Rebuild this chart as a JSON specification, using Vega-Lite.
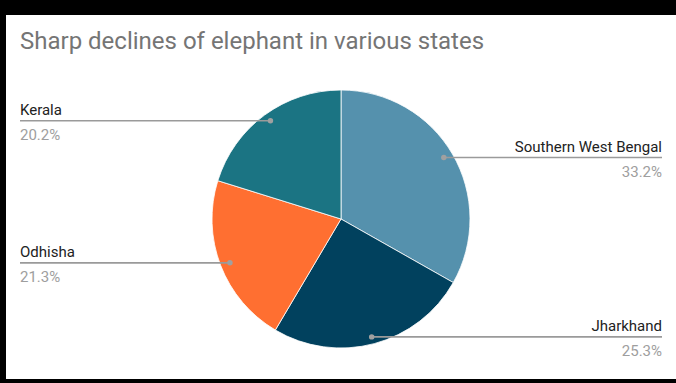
{
  "$schema": "https://vega.github.io/schema/vega-lite/v6.json",
  "autosize": "none",
  "width": 670,
  "height": 364,
  "padding": {"left": 6, "top": 15, "right": 0, "bottom": 4},
  "background": "black",
  "view": {"stroke": null, "fill": "white"},
  "config": {
    "view": {"stroke": null, "fill": "white"},
    "font": "Roboto, sans-serif"
  },
  "title": {
    "text": "Sharp declines of elephant in various states",
    "anchor": "start",
    "frame": "group",
    "orient": "top",
    "offset": -35,
    "dx": 14,
    "dy": 23,
    "baseline": "alphabetic",
    "fontSize": 24,
    "fontWeight": "normal",
    "font": "Roboto",
    "color": "#757575"
  },
  "params": [
    {"name": "cy", "expr": "height/2 + 22"}
  ],
  "data": {
    "values": [
      {"state": "Southern West Bengal", "share": 0.332},
      {"state": "Jharkhand", "share": 0.253},
      {"state": "Odhisha", "share": 0.213},
      {"state": "Kerala", "share": 0.202}
    ]
  },
  "layer": [
    {
      "mark": {"type": "arc", "outerRadius": 129, "y": {"expr": "cy"}, "stroke": "white", "strokeWidth": 0.8},
      "encoding": {
        "theta": {"field": "share", "type": "quantitative", "stack": true},
        "order": {"field": "share", "sort": "descending"},
        "color": {
          "field": "state",
          "type": "nominal",
          "scale": {
            "domain": ["Southern West Bengal", "Jharkhand", "Odhisha", "Kerala"],
            "range": ["#5591AD", "#01415E", "#FF6F31", "#1B7483"]
          },
          "legend": null
        }
      }
    },
    {
      "transform": [{"stack": "share", "groupby": [], "sort": [{"field": "share", "order": "descending"}], "as": ["v0", "v1"]}],
      "mark": {
        "type": "rect",
        "color": "#9a9a9a",
        "x": {"expr": "width/2 + 119*sin(PI*(datum.v0+datum.v1))"},
        "x2": {"expr": "datum.v0 + datum.v1 < 1 ? width - 14 : 14"},
        "y": {"expr": "cy - 122*cos(PI*(datum.v0+datum.v1)) - 0.8"},
        "y2": {"expr": "cy - 122*cos(PI*(datum.v0+datum.v1)) + 0.8"}
      },
      "encoding": {}
    },
    {
      "transform": [{"stack": "share", "groupby": [], "sort": [{"field": "share", "order": "descending"}], "as": ["v0", "v1"]}],
      "mark": {
        "type": "circle",
        "color": "#a0a0a0",
        "opacity": 1,
        "size": 30,
        "x": {"expr": "width/2 + 119*sin(PI*(datum.v0+datum.v1))"},
        "y": {"expr": "cy - 122*cos(PI*(datum.v0+datum.v1))"}
      },
      "encoding": {}
    },
    {
      "transform": [{"stack": "share", "groupby": [], "sort": [{"field": "share", "order": "descending"}], "as": ["v0", "v1"]}],
      "mark": {
        "type": "text",
        "fontSize": 15,
        "font": "Roboto",
        "color": "#222222",
        "baseline": "alphabetic",
        "align": {"expr": "datum.v0 + datum.v1 < 1 ? 'right' : 'left'"},
        "x": {"expr": "datum.v0 + datum.v1 < 1 ? width - 14 : 14"},
        "y": {"expr": "cy - 122*cos(PI*(datum.v0+datum.v1)) - 6"}
      },
      "encoding": {"text": {"field": "state", "type": "nominal"}}
    },
    {
      "transform": [{"stack": "share", "groupby": [], "sort": [{"field": "share", "order": "descending"}], "as": ["v0", "v1"]}],
      "mark": {
        "type": "text",
        "fontSize": 15,
        "font": "Roboto",
        "color": "#9e9e9e",
        "baseline": "alphabetic",
        "align": {"expr": "datum.v0 + datum.v1 < 1 ? 'right' : 'left'"},
        "x": {"expr": "datum.v0 + datum.v1 < 1 ? width - 14 : 14"},
        "y": {"expr": "cy - 122*cos(PI*(datum.v0+datum.v1)) + 19"}
      },
      "encoding": {"text": {"field": "share", "type": "quantitative", "format": ".1%"}}
    }
  ]
}
